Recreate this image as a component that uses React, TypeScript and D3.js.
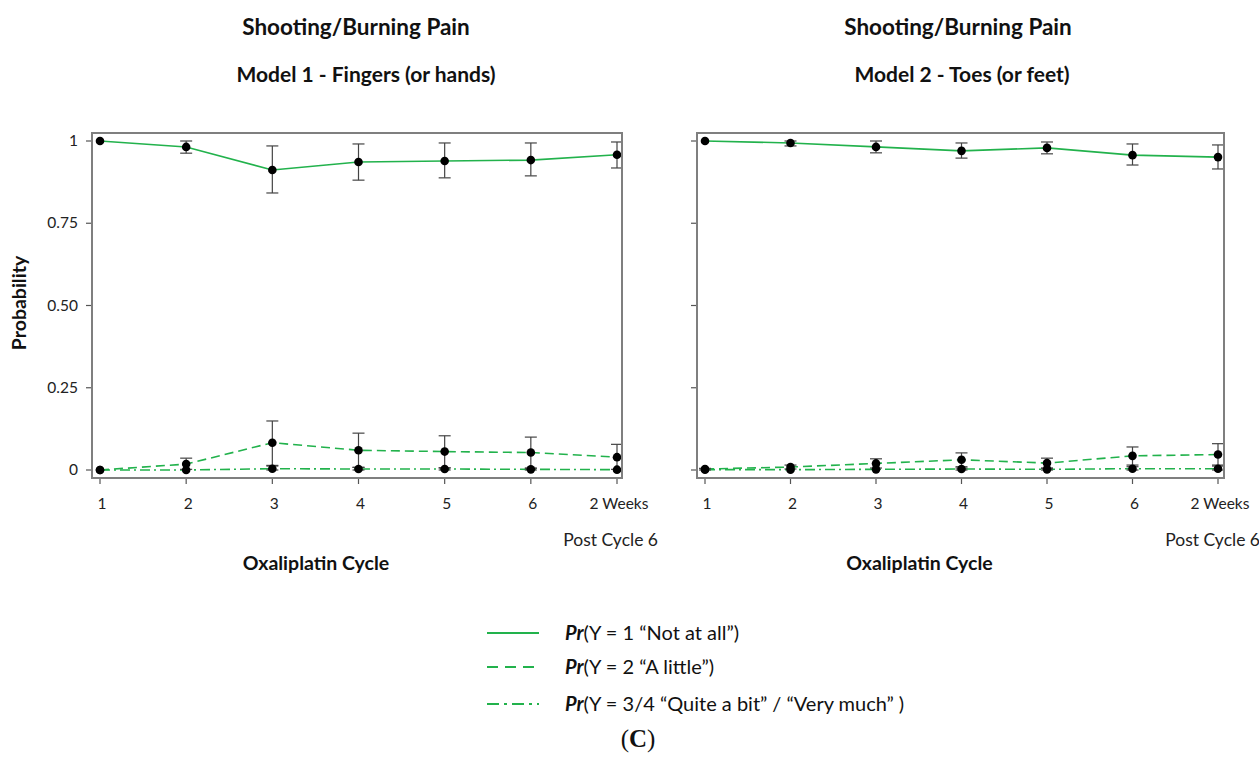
import React from "react";
import * as d3 from "d3";

const cycles = ["1", "2", "3", "4", "5", "6", "2 Weeks"];

// Model 1 - Fingers
const m1NotAtAll = [1.0, 0.982, 0.912, 0.936, 0.939, 0.942, 0.958];
const m1NotAtAllLo = [0.997, 0.963, 0.842, 0.881, 0.888, 0.894, 0.918];
const m1NotAtAllHi = [1.0, 1.0, 0.985, 0.991, 0.994, 0.994, 0.997];
const m1ALittle = [0.0, 0.018, 0.083, 0.06, 0.056, 0.053, 0.039];
const m1ALittleLo = [0.0, 0.002, 0.014, 0.008, 0.006, 0.005, 0.002];
const m1ALittleHi = [0.002, 0.036, 0.149, 0.112, 0.104, 0.1, 0.078];
const m1QuiteBit = [0.0, 0.0, 0.004, 0.003, 0.003, 0.002, 0.001];
const m1QuiteBitLo = [0.0, 0.0, 0.0, 0.0, 0.0, 0.0, 0.0];
const m1QuiteBitHi = [0.001, 0.001, 0.012, 0.008, 0.007, 0.006, 0.004];

// Model 2 - Toes
const m2NotAtAll = [1.0, 0.994, 0.982, 0.97, 0.979, 0.957, 0.951];
const m2NotAtAllLo = [0.997, 0.985, 0.964, 0.948, 0.961, 0.927, 0.915];
const m2NotAtAllHi = [1.0, 1.0, 1.0, 0.994, 0.997, 0.991, 0.988];
const m2ALittle = [0.003, 0.009, 0.02, 0.031, 0.021, 0.043, 0.047];
const m2ALittleLo = [0.0, 0.003, 0.006, 0.01, 0.006, 0.015, 0.015];
const m2ALittleHi = [0.005, 0.015, 0.034, 0.052, 0.036, 0.07, 0.08];
const m2QuiteBit = [0.001, 0.001, 0.002, 0.003, 0.002, 0.004, 0.004];
const m2QuiteBitLo = [0.0, 0.0, 0.0, 0.0, 0.0, 0.0, 0.0];
const m2QuiteBitHi = [0.002, 0.003, 0.004, 0.006, 0.005, 0.01, 0.012];

const yTicks = [0, 0.25, 0.5, 0.75, 1];
const yTickLabels = ["0", "0.25", "0.50", "0.75", "1"];

const legendLabels = [
  "(Y = 1 \u201CNot at all\u201D)",
  "(Y = 2 \u201CA little\u201D)",
  "(Y = 3/4 \u201CQuite a bit\u201D / \u201CVery much\u201D )",
];

const GREEN = "#22b24c";
const FONT = "Lato, 'Open Sans', sans-serif";
const DASHES = [null, "9,5", "10,4,2,4"];

type Series = { v: number[]; lo: number[]; hi: number[] };

function Panel({
  left,
  right,
  tickStart,
  tickEnd,
  series,
  showYLabels,
  title1,
  title2,
  t1x,
  t2x,
}: {
  left: number;
  right: number;
  tickStart: number;
  tickEnd: number;
  series: Series[];
  showYLabels: boolean;
  title1: string;
  title2: string;
  t1x: number;
  t2x: number;
}) {
  const top = 133;
  const bottom = 478;
  const x = d3.scalePoint<string>().domain(cycles).range([tickStart, tickEnd]);
  const y = d3.scaleLinear().domain([0, 1]).range([470, 141]);
  const line = d3
    .line<number>()
    .x((_, i) => x(cycles[i]) as number)
    .y((d) => y(d));
  return (
    <g>
      <text x={t1x} y={35} textAnchor="middle" fontFamily={FONT} fontWeight="bold" fontSize={22.5} fill="#111">
        {title1}
      </text>
      <text x={t2x} y={82} textAnchor="middle" fontFamily={FONT} fontWeight="bold" fontSize={21} fill="#111">
        {title2}
      </text>
      {/* y ticks */}
      {yTicks.map((t, i) => (
        <g key={"yt" + i}>
          <line x1={left - 6} x2={left} y1={y(t)} y2={y(t)} stroke="#555" strokeWidth={1.2} />
          {showYLabels && (
            <text x={left - 14} y={y(t) + 5} textAnchor="end" fontFamily={FONT} fontSize={15.5} fill="#222">
              {yTickLabels[i]}
            </text>
          )}
        </g>
      ))}
      {/* x ticks */}
      {cycles.map((c) => (
        <g key={"xt" + c}>
          <line x1={x(c)} x2={x(c)} y1={bottom} y2={bottom + 6} stroke="#555" strokeWidth={1.2} />
          <text x={(x(c) as number) + 2} y={509} textAnchor="middle" fontFamily={FONT} fontSize={15.5} fill="#222">
            {c}
          </text>
        </g>
      ))}
      <text x={right + 36} y={546} textAnchor="end" fontFamily={FONT} fontSize={17.5} fill="#222">
        Post Cycle 6
      </text>
      <text x={(left + right) / 2 - 41} y={570} textAnchor="middle" fontFamily={FONT} fontWeight="bold" fontSize={19.5} fill="#111">
        Oxaliplatin Cycle
      </text>
      {/* lines */}
      {series.map((s, si) => (
        <path
          key={"l" + si}
          d={line(s.v) || ""}
          fill="none"
          stroke={GREEN}
          strokeWidth={1.6}
          strokeDasharray={DASHES[si] || undefined}
        />
      ))}
      {/* error bars */}
      {series.map((s, si) =>
        s.v.map((_, i) => {
          const cx = x(cycles[i]) as number;
          const y1 = y(s.hi[i]);
          const y2 = y(s.lo[i]);
          if (Math.abs(y2 - y1) < 1.5) return null;
          return (
            <g key={"e" + si + "-" + i} stroke="#444" strokeWidth={1.2}>
              <line x1={cx} x2={cx} y1={y1} y2={y2} />
              <line x1={cx - 6} x2={cx + 6} y1={y1} y2={y1} />
              <line x1={cx - 6} x2={cx + 6} y1={y2} y2={y2} />
            </g>
          );
        })
      )}
      {/* points */}
      {series.map((s, si) =>
        s.v.map((v, i) => (
          <circle key={"p" + si + "-" + i} cx={x(cycles[i])} cy={y(v)} r={4.3} fill="#000" />
        ))
      )}
      {/* frame */}
      <rect x={left} y={top} width={right - left} height={bottom - top} fill="none" stroke="#7f7f7f" strokeWidth={2} />
    </g>
  );
}

export default function App() {
  const m1: Series[] = [
    { v: m1NotAtAll, lo: m1NotAtAllLo, hi: m1NotAtAllHi },
    { v: m1ALittle, lo: m1ALittleLo, hi: m1ALittleHi },
    { v: m1QuiteBit, lo: m1QuiteBitLo, hi: m1QuiteBitHi },
  ];
  const m2: Series[] = [
    { v: m2NotAtAll, lo: m2NotAtAllLo, hi: m2NotAtAllHi },
    { v: m2ALittle, lo: m2ALittleLo, hi: m2ALittleHi },
    { v: m2QuiteBit, lo: m2QuiteBitLo, hi: m2QuiteBitHi },
  ];
  const legendY = [633, 667, 704];
  return (
    <svg
      width={1259}
      height={758}
      style={{ position: "absolute", left: 0, top: 0, background: "#fff" }}
    >
      <rect width={1259} height={758} fill="#fff" />
      <Panel
        left={92}
        right={622}
        tickStart={100}
        tickEnd={617}
        series={m1}
        showYLabels={true}
        title1="Shooting/Burning Pain"
        title2="Model 1 - Fingers (or hands)"
        t1x={356}
        t2x={366}
      />
      <Panel
        left={697}
        right={1224}
        tickStart={705}
        tickEnd={1218}
        series={m2}
        showYLabels={false}
        title1="Shooting/Burning Pain"
        title2="Model 2 - Toes (or feet)"
        t1x={958}
        t2x={962}
      />
      <text
        transform="translate(26,303) rotate(-90)"
        textAnchor="middle"
        fontFamily={FONT}
        fontWeight="bold"
        fontSize={19.5}
        fill="#111"
      >
        Probability
      </text>
      {legendLabels.map((lab, i) => (
        <g key={"lg" + i}>
          <line
            x1={487}
            x2={539}
            y1={legendY[i]}
            y2={legendY[i]}
            stroke={GREEN}
            strokeWidth={1.8}
            strokeDasharray={i === 0 ? undefined : i === 1 ? "11,7" : "12,5,3,5"}
          />
          <text x={565} y={legendY[i] + 7} fontFamily={FONT} fontSize={20} fill="#111">
            <tspan fontWeight="bold" fontStyle="italic">Pr</tspan>
            {lab}
          </text>
        </g>
      ))}
      <text x={638} y={747} textAnchor="middle" fontFamily="'Liberation Serif', 'DejaVu Serif', serif" fontSize={25} fill="#111">
        (<tspan fontWeight="bold">C</tspan>)
      </text>
    </svg>
  );
}
